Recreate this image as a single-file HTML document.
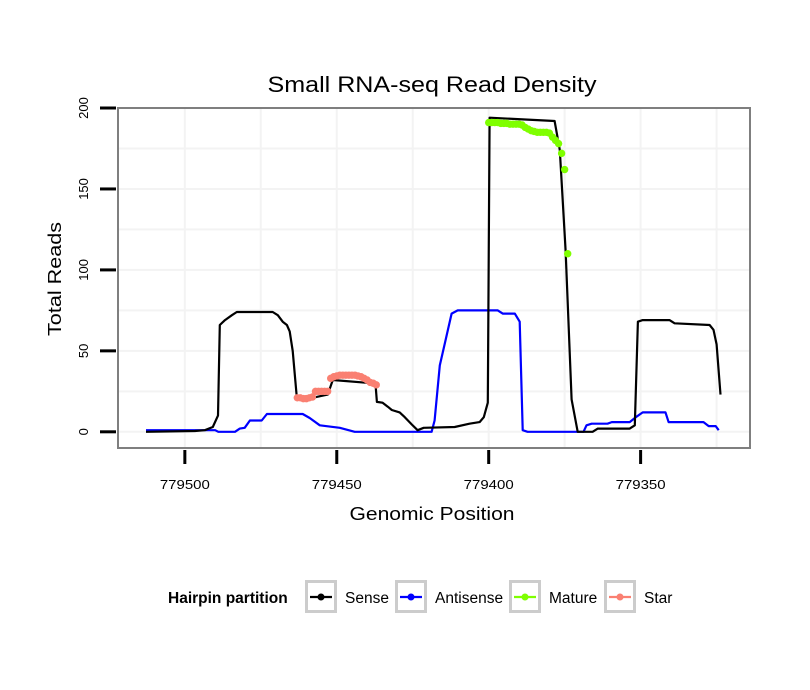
<!DOCTYPE html>
<html><head><meta charset="utf-8"><style>
body{margin:0;background:#fff}
svg{display:block;font-family:"Liberation Sans",sans-serif}
</style></head><body>
<svg id="chart" width="810" height="690">
<text x="432" y="92" text-anchor="middle" font-size="22" textLength="329" lengthAdjust="spacingAndGlyphs">Small RNA-seq Read Density</text>
<g id="grid"></g>
<g id="series"></g>
<rect x="118" y="108" width="632" height="340" fill="none" stroke="#7f7f7f" stroke-width="2"/>
<g id="axes"></g>
<text x="432" y="520" text-anchor="middle" font-size="18" textLength="165" lengthAdjust="spacingAndGlyphs">Genomic Position</text>
<text transform="translate(61,279) rotate(-90)" text-anchor="middle" font-size="18" textLength="114" lengthAdjust="spacingAndGlyphs">Total Reads</text>
<g>
<text x="168" y="603" font-size="15.5" font-weight="bold">Hairpin partition</text>
<g id="legend"></g>
</g>
</svg>
<script>
const xTicks=[779500,779450,779400,779350];
const yTicks=[0,50,100,150,200];
const sensePos=[779512.8,779496.7,779493.4,779490.8,779489.1,779488.5,779486.8,779484.5,779482.9,779471.1,779469.4,779467.8,779466.4,779465.5,779464.5,779463.2,779458,779453,779451.3,779438.5,779437.2,779436.8,779434.9,779433.2,779431.9,779429.3,779427.6,779425.3,779423.4,779421.4,779411.2,779406.3,779403,779401.6,779400.3,779399.7,779378.3,779376.6,779374.7,779372.7,779370.7,779365.8,779364.1,779353.6,779351.9,779350.9,779349.3,779340.5,779338.8,779327.3,779326,779325,779323.7];
const senseVal=[0,0.5,1,3,10,66,69,72,74,74,72,68,66,62,50,22,21,23,32,30,28,18.5,18,15.5,13.5,12,9,4.5,1,2.5,3,5,6,9,18,194,192,174,112,20,0,0,2,2,4,68,69,69,67,66,63,54,23];
const antiPos=[779512.8,779490,779489,779483.5,779481.9,779480.3,779478.6,779474.7,779473,779461.2,779458.9,779455.6,779449,779444.1,779418.8,779417.8,779416.1,779414.5,779412.2,779410.2,779397,779395.4,779391.4,779389.8,779388.8,779387.2,779368.8,779367.8,779366.1,779360.9,779359.5,779353.6,779351.6,779349.3,779341.8,779340.8,779329.3,779327.6,779325.3,779324.3];
const antiVal=[1,1,0,0,2,2.5,7,7,11,11,8.5,4,2.5,0,0,7,41,54,73,75,75,73,73,68,1,0,0,4,5,5,6,6,9,12,12,6,6,3.5,3.5,1];
const maturePos=[779400,779399,779398,779397,779396,779395,779394,779393,779392,779391,779390,779389,779388,779387,779386,779385,779384,779383,779382,779381,779380,779379,779378,779377,779376,779375,779374];
const matureVal=[191,191,191,191,190.5,190.5,190.5,190,190,190,190,189.5,188,187,186,185.5,185,185,185,185,184.5,182,180,178,172,162,110];
const starPos=[779463,779462,779461,779460,779459,779458,779457,779456,779455,779454,779453,779452,779451,779450,779449,779448,779447,779446,779445,779444,779443,779442,779441,779440,779439,779438,779437];
const starVal=[21,21,20.5,20.5,21,21.5,25,25,25,25,25,33,34,34.5,35,35,35,35,35,35,34.5,34,33,32,30.5,30,29];
const legendLabels=["Sense","Antisense","Mature","Star"];
const legendColors=["#000000","#0000ff","#7fff00","#fa8072"];

const NS="http://www.w3.org/2000/svg";
const X0=118,X1=750,Y0=108,Y1=448;
const xMin=779314,xMax=779522,yMin=-10,yMax=200;
function sx(p){return X0+(xMax-p)/(xMax-xMin)*(X1-X0);}
function sy(v){return Y1-(v-yMin)/(yMax-yMin)*(Y1-Y0);}
function mk(tag,attrs,parent){const e=document.createElementNS(NS,tag);for(const k in attrs)e.setAttribute(k,attrs[k]);parent.appendChild(e);return e;}
const grid=document.getElementById('grid'),series=document.getElementById('series'),axes=document.getElementById('axes');
for(let v=0;v<=200;v+=25){const l=mk('line',{x1:X0,x2:X1,y1:sy(v),y2:sy(v),stroke:'#f3f3f3','stroke-width':2},grid);

}
for(let p=779525;p>=779325;p-=25){if(sx(p)<X0||sx(p)>X1)continue;const l=mk('line',{x1:sx(p),x2:sx(p),y1:Y0,y2:Y1,stroke:'#f3f3f3','stroke-width':2},grid);

}
yTicks.forEach(v=>{const t=mk('line',{x1:100,x2:116,y1:sy(v),y2:sy(v),stroke:'#000','stroke-width':3},axes);


const tx=mk('text',{transform:`translate(${88},${sy(v)}) rotate(-90)`,'text-anchor':'middle','font-size':13},axes);tx.textContent=v;

});
xTicks.forEach(p=>{const t=mk('line',{x1:sx(p),x2:sx(p),y1:450,y2:464,stroke:'#000','stroke-width':3},axes);


const tx=mk('text',{x:sx(p),y:489,'text-anchor':'middle','font-size':13,textLength:50,lengthAdjust:'spacingAndGlyphs'},axes);tx.textContent=p;

});
function line(ps,vs,col,name){const d=ps.map((p,i)=>(i?'L':'M')+sx(p).toFixed(1)+','+sy(vs[i]).toFixed(1)).join('');
const e=mk('path',{d:d,fill:'none',stroke:col,'stroke-width':2.2,'stroke-linejoin':'round'},series);

}
function pts(ps,vs,col,name){ps.forEach((p,i)=>{const c=mk('circle',{cx:sx(p),cy:sy(vs[i]),r:3.7,fill:col},series);

});}
line(antiPos,antiVal,'#0000ff','antisense-line');
line(sensePos,senseVal,'#000000','sense-line');
pts(starPos,starVal,'#fa8072','star-point');
pts(maturePos,matureVal,'#7fff00','mature-point');
const lg=document.getElementById('legend');
const boxX=[305,395,509,604];
legendLabels.forEach((lab,i)=>{const g=mk('g',{},lg);


const x=boxX[i];
mk('rect',{x:x+1.5,y:581.5,width:29,height:30,fill:'#fff',stroke:'#cccccc','stroke-width':3},g);
mk('line',{x1:x+5,x2:x+27,y1:597,y2:597,stroke:legendColors[i],'stroke-width':2.2},g);
mk('circle',{cx:x+16,cy:597,r:3.5,fill:legendColors[i]},g);
const t=mk('text',{x:x+40,y:603,'font-size':15.5},g);t.textContent=lab;});
</script>
</body></html>
